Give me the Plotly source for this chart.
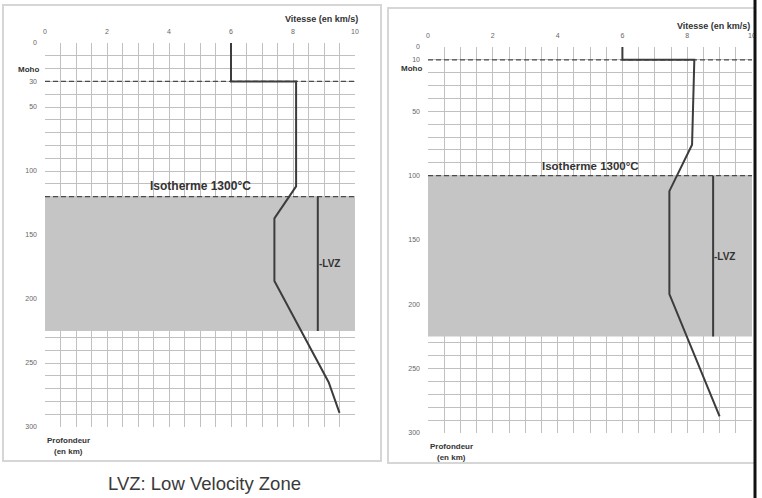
import plotly.graph_objects as go

# ---------------- data ----------------
left_depth = [0, 30, 30, 112, 137, 186, 265, 289]
left_vel = [6.0, 6.0, 8.1, 8.1, 7.4, 7.4, 9.15, 9.5]
right_depth = [0, 10, 10, 76, 112, 192, 287]
right_vel = [6.0, 6.0, 8.22, 8.15, 7.45, 7.45, 9.0]

left_moho = 30
right_moho = 10
left_isotherm = 120
right_isotherm = 100
lvz_bottom = 225
lvz_bar_x = 8.8

x_ticks = [i * 0.5 for i in range(21)]
x_labels = ["0", "2", "4", "6", "8", "10"]
y_ticks = list(range(0, 301, 10))
left_y_labels = ["0", "30", "50", "100", "150", "200", "250", "300"]
right_y_labels = ["0", "10", "50", "100", "150", "200", "250", "300"]

W, H = 762, 498


def px(x):
    return x / W


def py(y):
    return 1 - y / H


def ttext(vals, labels):
    out = []
    for v in vals:
        s = str(int(v)) if float(v).is_integer() else ""
        out.append(s if s in labels else "")
    return out


fig = go.Figure()

LINE = "#3c3c3c"
DASH = "#4a4a4a"

for xa, ya, depth, vel, moho, iso in [
    ("x", "y", left_depth, left_vel, left_moho, left_isotherm),
    ("x2", "y2", right_depth, right_vel, right_moho, right_isotherm),
]:
    for d in (moho, iso):
        fig.add_trace(go.Scatter(x=[0, 10], y=[d, d], mode="lines", xaxis=xa, yaxis=ya,
                                 line=dict(color=DASH, width=1.4, dash="5px,3px"),
                                 showlegend=False, hoverinfo="skip"))
    fig.add_trace(go.Scatter(x=vel, y=depth, mode="lines", xaxis=xa, yaxis=ya,
                             line=dict(color=LINE, width=2), showlegend=False))
    fig.add_trace(go.Scatter(x=[lvz_bar_x, lvz_bar_x], y=[iso, lvz_bottom], mode="lines",
                             xaxis=xa, yaxis=ya, line=dict(color=LINE, width=2),
                             showlegend=False, hoverinfo="skip"))
    fig.add_shape(type="rect", xref=xa, yref=ya, x0=0, x1=10, y0=iso, y1=lvz_bottom,
                  fillcolor="#c5c5c5", line=dict(width=0), layer="between")
    fig.add_annotation(x=lvz_bar_x, y=(iso + lvz_bottom) / 2, xref=xa, yref=ya,
                       text="<b>-LVZ</b>", showarrow=False, xanchor="left", xshift=-1,
                       font=dict(size=10, color="#333"))
    fig.add_annotation(x=5.0, y=iso, xref=xa, yref=ya,
                       text="<b>Isotherme 1300°C</b>", showarrow=False, yanchor="bottom",
                       xanchor="center", yshift=2,
                       font=dict(size=12 if xa == "x" else 11.5, color="#333"))

axis_common = dict(showline=False, zeroline=False, ticks="", gridcolor="#c0c0c0",
                   gridwidth=1, tickfont=dict(size=7, color="#666"), automargin=False,
                   ticklabelstandoff=7)

fig.update_layout(
    width=W, height=H, margin=dict(l=0, r=0, t=0, b=0, autoexpand=False),
    paper_bgcolor="white", plot_bgcolor="white",
    font=dict(family="Liberation Sans, Arial, sans-serif"),
    xaxis=dict(domain=[px(45), px(355)], range=[0, 10], side="top", anchor="y",
               tickmode="array", tickvals=x_ticks, ticktext=ttext(x_ticks, x_labels),
               **axis_common),
    yaxis=dict(domain=[py(427), py(43)], range=[300, 0], anchor="x",
               tickmode="array", tickvals=y_ticks, ticktext=ttext(y_ticks, left_y_labels),
               **axis_common),
    xaxis2=dict(domain=[px(428), px(752)], range=[0, 10], side="top", anchor="y2",
                tickmode="array", tickvals=x_ticks, ticktext=ttext(x_ticks, x_labels),
                **axis_common),
    yaxis2=dict(domain=[py(433), py(47)], range=[300, 0], anchor="x2",
                tickmode="array", tickvals=y_ticks, ticktext=ttext(y_ticks, right_y_labels),
                **axis_common),
)

# panel frames
fig.add_shape(type="rect", xref="paper", yref="paper", x0=px(3), x1=px(381), y0=py(461), y1=py(5),
              line=dict(color="#d6d6d6", width=2), layer="below")
fig.add_shape(type="rect", xref="paper", yref="paper", x0=px(388), x1=px(770), y0=py(463), y1=py(8),
              line=dict(color="#d6d6d6", width=2), layer="below")
# right black edge
fig.add_shape(type="rect", xref="paper", yref="paper", x0=px(755.5), x1=px(763), y0=0, y1=1,
              fillcolor="white", line=dict(width=0), layer="above")
fig.add_shape(type="line", xref="paper", yref="paper", x0=px(755), x1=px(755), y0=0, y1=1,
              line=dict(color="#111", width=3), layer="above")

lab = dict(color="#333")
ann = [
    (px(360), py(19), "<b>Vitesse (en km/s)</b>", "right", 9),
    (px(752), py(26), "<b>Vitesse (en km/s)</b>", "right", 9),
    (px(41), py(70), "<b>Moho</b>", "right", 8),
    (px(424), py(69), "<b>Moho</b>", "right", 8),
    (px(45), py(440), "<b>Profondeur</b>", "left", 8),
    (px(52), py(451), "<b>(en km)</b>", "left", 8),
    (px(428), py(446), "<b>Profondeur</b>", "left", 8),
    (px(435), py(457), "<b>(en km)</b>", "left", 8),
]
for x, y, t, xa, s in ann:
    fig.add_annotation(x=x, y=y, xref="paper", yref="paper", text=t, showarrow=False,
                       xanchor=xa, yanchor="middle", font=dict(size=s, **lab))

fig.add_annotation(x=px(204), y=py(483), xref="paper", yref="paper",
                   text="LVZ: Low Velocity Zone", showarrow=False, xanchor="center",
                   yanchor="middle", font=dict(size=18.5, color="#3a3a3a"))

fig.write_html("out.html", config={"displayModeBar": False},
               post_script="document.body.style.margin='0px';document.body.style.overflow='hidden';")
